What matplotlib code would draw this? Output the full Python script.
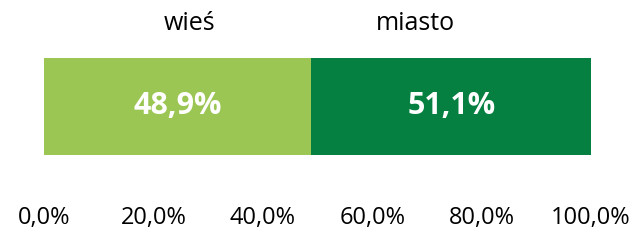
import matplotlib.pyplot as plt
import numpy as np

categories = ['wieś', 'miasto']
values = [48.9, 51.1]
colors = ['#9BC653', '#058040']
ticks = [0, 20, 40, 60, 80, 100]
tick_labels = ['0,0%', '20,0%', '40,0%', '60,0%', '80,0%', '100,0%']

plt.rcParams['font.family'] = ['Open Sans', 'DejaVu Sans']

fig = plt.figure(figsize=(6.36, 2.43), dpi=100)
ax = fig.add_axes([44/636, 1-155/243, 547/636, 97/243])

left = 0
for cat, v, c in zip(categories, values, colors):
    ax.barh(0, v, left=left, height=1, color=c)
    ax.text(left + v/2, 0, f'{v:.1f}%'.replace('.', ','), ha='center', va='center',
            color='white', fontsize=22, fontweight='bold')
    left += v

ax.set_xlim(0, 100)
ax.set_ylim(-0.5, 0.5)
ax.set_xticks(ticks)
ax.set_xticklabels(tick_labels, fontsize=17)
ax.tick_params(axis='x', length=0, pad=37)
ax.set_yticks([])
for s in ax.spines.values():
    s.set_visible(False)

fig.text(190/636, 1-24/243, categories[0], ha='center', va='center', fontsize=18)
fig.text(415/636, 1-24/243, categories[1], ha='center', va='center', fontsize=18)

fig.savefig('out.png', dpi=100)
